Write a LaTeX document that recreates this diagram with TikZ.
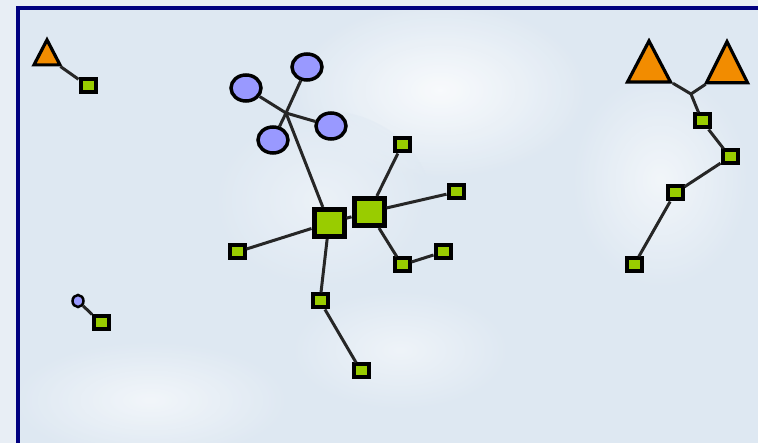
\documentclass[tikz,border=0pt]{standalone}
\usetikzlibrary{shapes.geometric}
\definecolor{bg}{RGB}{222,232,242}
\definecolor{bgout}{RGB}{232,238,245}
\definecolor{navy}{RGB}{0,0,128}
\definecolor{grn}{RGB}{153,204,0}
\definecolor{org}{RGB}{242,140,0}
\definecolor{lav}{RGB}{153,153,255}
\tikzset{
  x=1pt, y=-1pt,
  sq/.style={draw=black, fill=grn, line width=4pt, inner sep=0pt, minimum width=15pt, minimum height=13pt},
  bigsq/.style={draw=black, fill=grn, line width=5pt, inner sep=0pt, minimum width=30pt, minimum height=27pt},
  ell/.style={ellipse, draw=black, fill=lav, line width=3.5pt, inner sep=0pt, minimum width=30pt, minimum height=26pt},
  tri/.style={isosceles triangle, shape border rotate=90, isosceles triangle stretches, draw=black, fill=org, line width=3.2pt, inner sep=0pt},
  conn/.style={draw=black!85, line width=3pt},
  blob/.style={inner color=white, outer color=bg}
}
\begin{document}
\begin{tikzpicture}
\useasboundingbox (0,0) rectangle (758,443);
\fill[bgout] (0,0) rectangle (758,443);
\fill[bg] (18,8) rectangle (758,443);
% faint background blobs
\begin{scope}
\clip (20,10) rectangle (758,443);
\shade[blob, opacity=0.8] (440,90) ellipse (150 and 90);
\shade[blob, opacity=0.6] (660,180) ellipse (90 and 110);
\shade[blob, opacity=0.6] (150,400) ellipse (140 and 60);
\shade[blob, opacity=0.5] (400,350) ellipse (110 and 60);
\shade[blob, opacity=0.4] (320,200) ellipse (110 and 90);
\end{scope}
\draw[navy, line width=4pt] (18,443) -- (18,8) -- (758,8);

% top-left group
\node[tri, minimum width=26pt, minimum height=25pt] (t0) at (47,57) {};
\node[sq] (s0) at (88,86) {};
\draw[conn] (t0) -- (s0);

% small circle group
\node[ell, minimum width=11pt, minimum height=12pt, line width=2.5pt] (c0) at (78,301) {};
\node[sq] (s1) at (101,323) {};
\draw[conn] (c0) -- (s1);

% central group
\coordinate (hub) at (286,113);
\node[bigsq] (b1) at (329,223) {};
\node[bigsq] (b2) at (369,212) {};
\node[ell] (e1) at (246,88) {};
\node[ell] (e2) at (307,67) {};
\node[ell] (e3) at (331,126) {};
\node[ell] (e4) at (273,140) {};
\node[sq] (m1) at (402,145) {};
\node[sq] (m2) at (456,192) {};
\node[sq] (m3) at (237,252) {};
\node[sq] (m4) at (402,265) {};
\node[sq] (m5) at (443,252) {};
\node[sq] (m6) at (320,301) {};
\node[sq] (m7) at (361,371) {};
\draw[conn] (e1) -- (hub);
\draw[conn] (e2) -- (hub);
\draw[conn] (e3) -- (hub);
\draw[conn] (e4) -- (hub);
\draw[conn] (hub) -- (b1);
\draw[conn] (b1) -- (b2);
\draw[conn] (b1) -- (m3);
\draw[conn] (b1) -- (m6);
\draw[conn] (m6) -- (m7);
\draw[conn] (b2) -- (m1);
\draw[conn] (b2) -- (m2);
\draw[conn] (b2) -- (m4);
\draw[conn] (m4) -- (m5);

% right group
\node[tri, minimum width=43pt, minimum height=41pt] (t1) at (649,69) {};
\node[tri, minimum width=41pt, minimum height=41pt] (t2) at (727,70) {};
\coordinate (jn) at (691,94);
\node[sq] (r1) at (702,121) {};
\node[sq] (r2) at (730,157) {};
\node[sq] (r3) at (675,193) {};
\node[sq] (r4) at (634,265) {};
\draw[conn] (t1) -- (jn);
\draw[conn] (t2) -- (jn);
\draw[conn] (jn) -- (r1);
\draw[conn] (r1) -- (r2);
\draw[conn] (r2) -- (r3);
\draw[conn] (r3) -- (r4);
\end{tikzpicture}
\end{document}
